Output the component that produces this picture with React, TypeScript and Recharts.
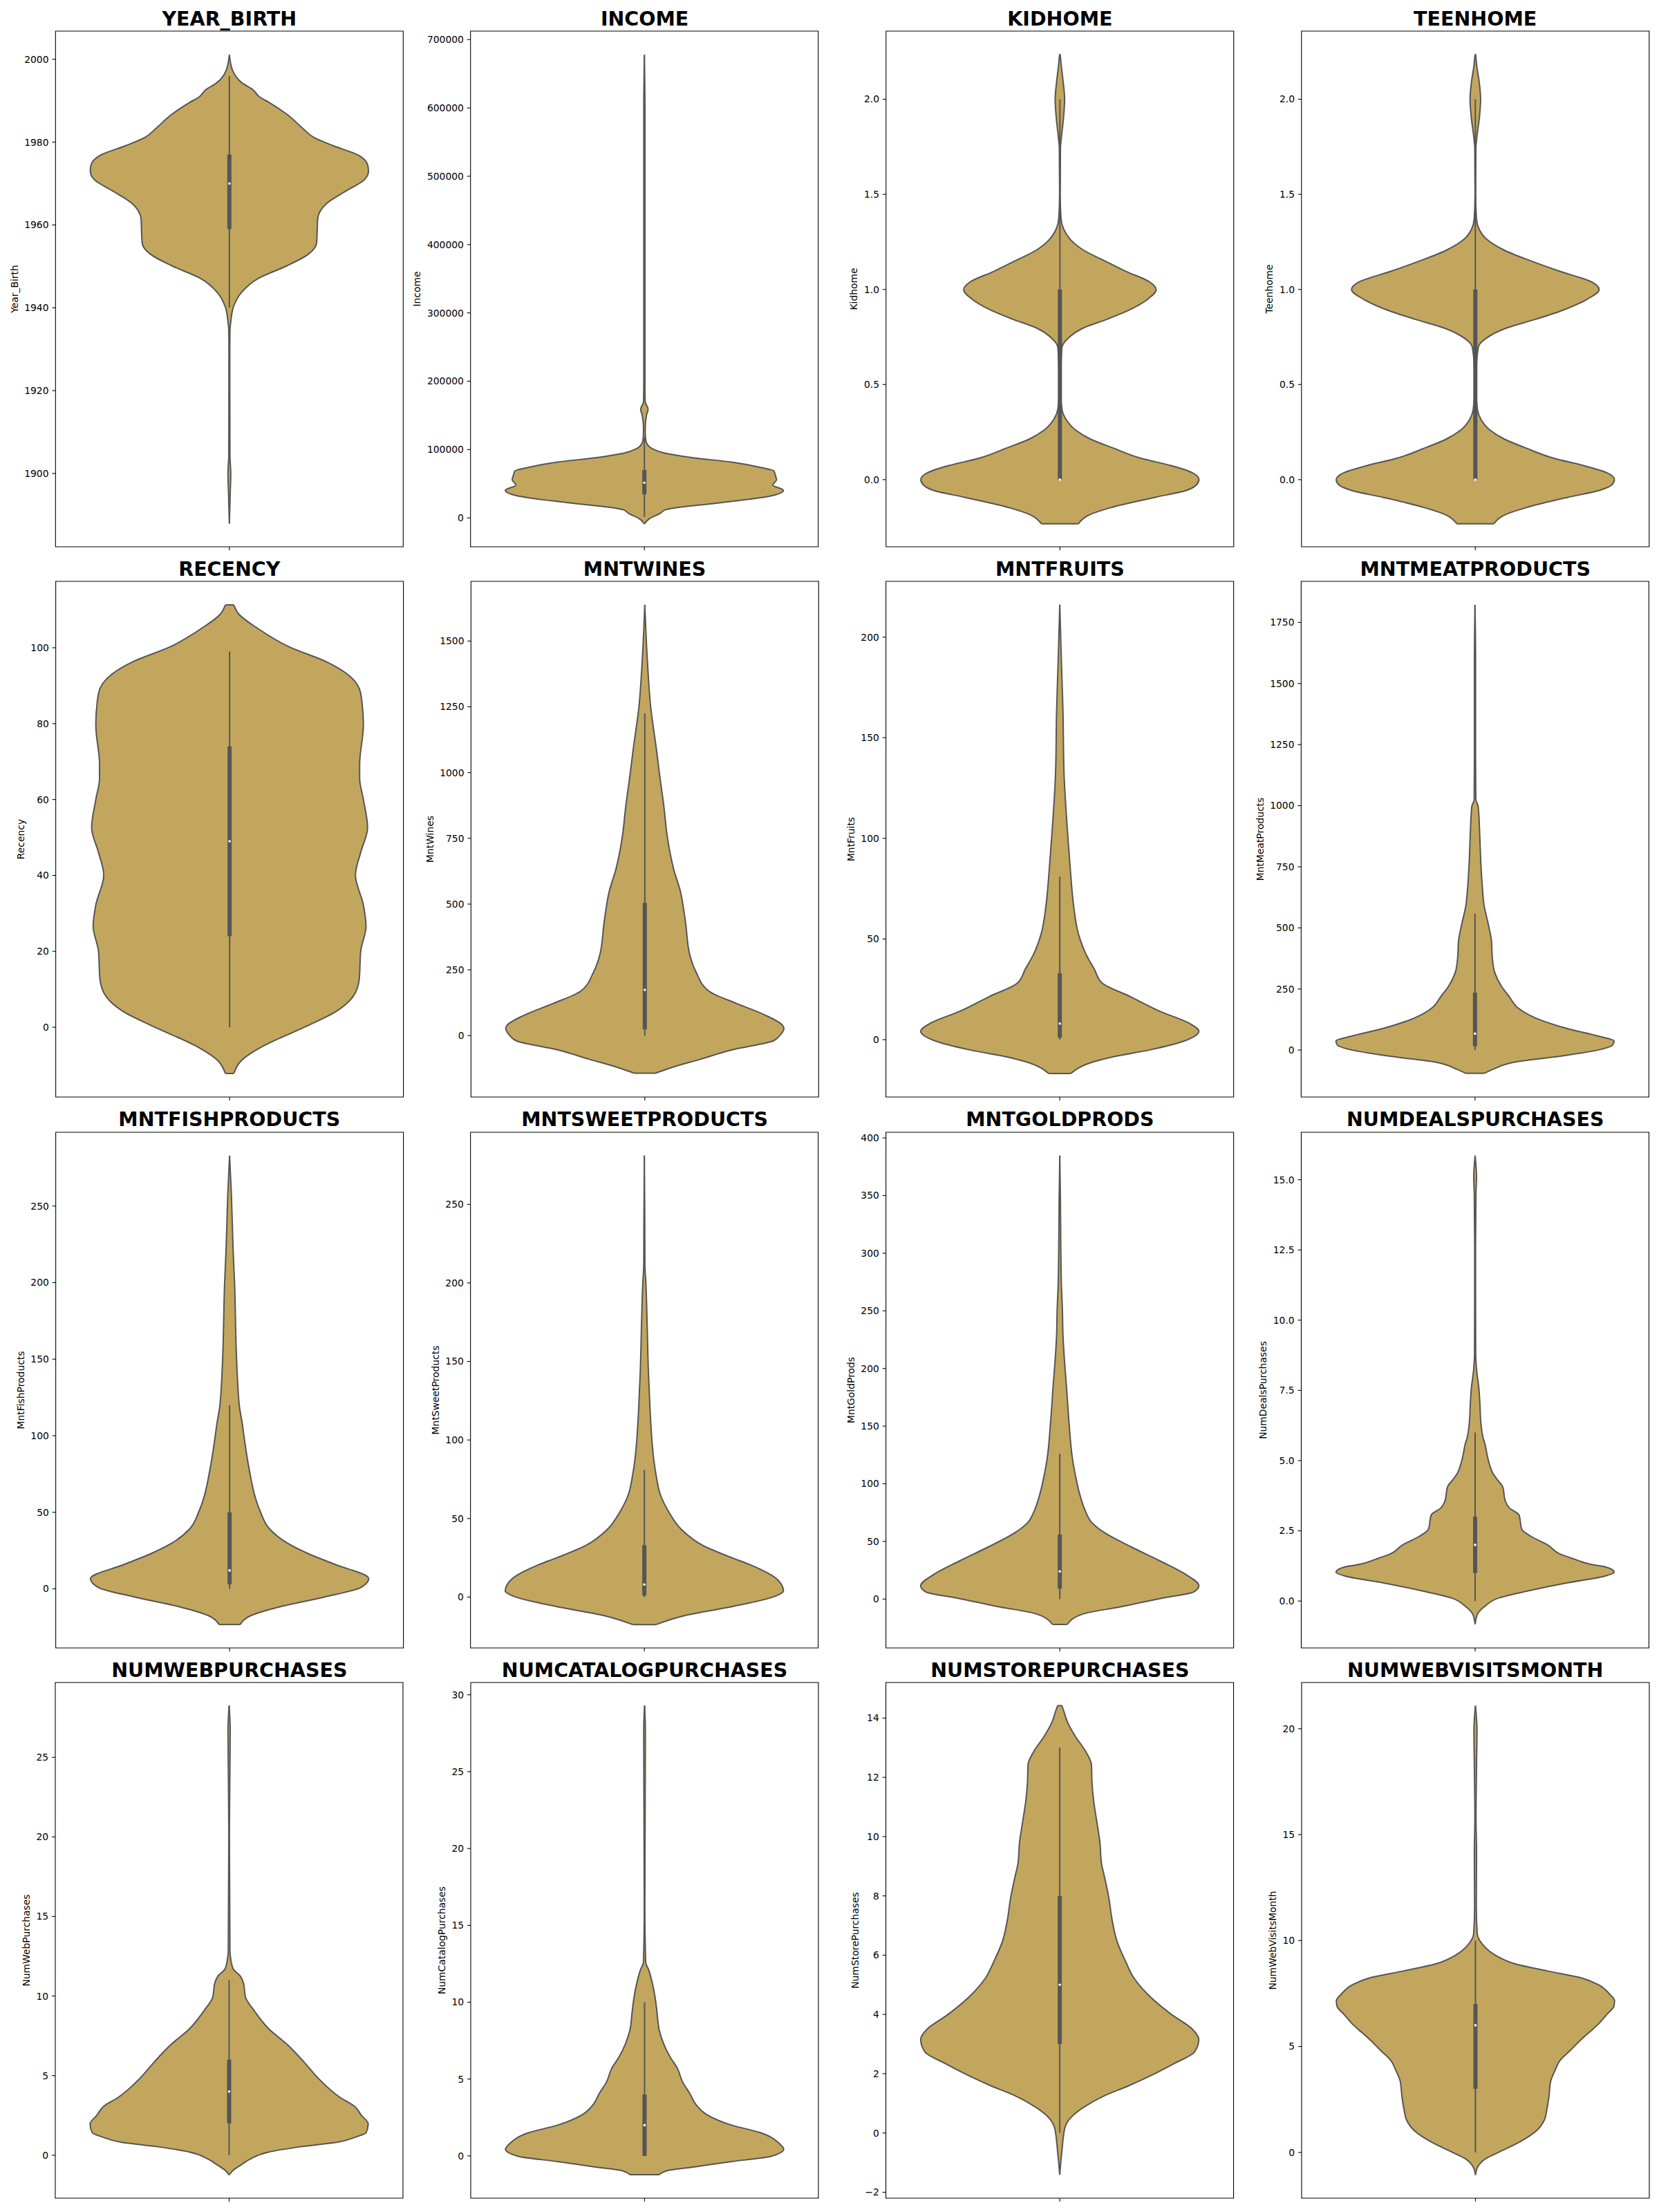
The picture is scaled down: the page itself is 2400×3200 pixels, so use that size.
import React from 'react';
import { ComposedChart, Area, XAxis, YAxis, ReferenceLine, ReferenceDot, ReferenceArea } from 'recharts';

type Pt = [number, number];

// ---------- violin outlines: [value, relative half-width (0..100)] ----------
const yearBirthShape: Pt[] = [[1887.9,0],[1895.1,0.6],[1900,1],[1904.5,0.4],[1929.2,0.3],[1934.3,0.4],[1936.9,1.1],[1940.3,3],[1943.7,8.7],[1947.1,20.9],[1950.1,41.1],[1953,57],[1955.6,62.7],[1958.1,63.1],[1961.5,63.5],[1965.3,70.3],[1968.3,84.4],[1970.9,97],[1972.9,100],[1974.3,99.6],[1976.9,92.4],[1979.1,74.9],[1981.1,60.8],[1983.2,53.2],[1986.6,41.8],[1989.6,28.5],[1990.9,21.7],[1992.6,17.1],[1994.3,9.1],[1997.3,2.3],[2001.1,0]];
const incomeShape: Pt[] = [[-8800,0],[-1000,3.8],[6700,11.4],[11900,15.2],[14500,21.7],[22200,55],[32500,92],[40300,100],[48000,92.4],[55800,95],[63500,94],[68700,93.2],[73800,83.7],[81600,62.7],[88300,34.2],[94500,15.2],[101200,5.7],[110000,1.5],[117700,0.8],[130000,0.6],[150000,1.5],[159000,2.7],[170000,0.6],[200000,0.4],[400000,0.4],[600000,0.4],[677800,0]];
const kidhomeShape: Pt[] = [[-0.232,13.3],[-0.186,20.9],[-0.148,36.1],[-0.093,68.4],[-0.056,91.3],[-0.028,98.1],[0,100],[0.037,95],[0.074,79.8],[0.111,58.9],[0.167,38],[0.213,22],[0.26,11.4],[0.315,4.6],[0.37,1.5],[0.48,0.4],[0.6,0.8],[0.696,1.5],[0.742,5.7],[0.798,17.1],[0.844,34.2],[0.89,49.4],[0.946,62.7],[1,69.2],[1.039,64.6],[1.095,47.5],[1.15,32.3],[1.206,17.1],[1.262,7.6],[1.317,2.7],[1.373,0.8],[1.5,0.2],[1.744,0.4],[1.8,1.1],[1.91,2.7],[2,3.4],[2.095,2.3],[2.17,1.1],[2.236,0.2]];
const teenhomeShape: Pt[] = [[-0.232,13.3],[-0.186,20.9],[-0.148,36.1],[-0.093,66.5],[-0.056,89.4],[-0.028,98.1],[0,100],[0.037,94.3],[0.074,77.9],[0.111,57],[0.167,36.1],[0.213,20.9],[0.26,10.6],[0.315,4.2],[0.37,1.5],[0.48,0.4],[0.6,0.8],[0.7,2.3],[0.742,7.6],[0.798,22.8],[0.844,43.7],[0.89,62.7],[0.946,79.8],[1,89],[1.039,83.7],[1.095,60.8],[1.15,39.9],[1.206,20.9],[1.262,8.4],[1.317,2.7],[1.373,0.8],[1.5,0.2],[1.744,0.4],[1.8,1.1],[1.91,3],[2,3.8],[2.095,2.7],[2.17,1.1],[2.236,0.2]];
const recencyShape: Pt[] = [[-12.2,3],[-8.7,8.7],[-5,24],[0.1,54.4],[4.3,77.2],[8,88.6],[12.6,93.2],[20.1,94.3],[26.6,98.1],[32.2,96.2],[40.1,90.5],[46.1,94.3],[52.6,99.2],[60,96.2],[65.6,93.5],[69.3,93.5],[79.6,96.2],[87.9,94.3],[93,84.8],[96.3,69.6],[100.2,43],[105.1,20.2],[108.8,6.8],[111.3,3]];
const mntWinesShape: Pt[] = [[-143,7.6],[-123,18.3],[-90,39.9],[-54,62.7],[-20,92.4],[0,97],[27,100],[40,98.9],[80,85.6],[121,66.5],[168,46.4],[241,36.9],[308,32.3],[429,29.3],[550,25.5],[630,20.9],[751,16.3],[871,13.7],[1005,10.3],[1086,8.4],[1251,4.2],[1421,1.9],[1638,0]];
const mntFruitsShape: Pt[] = [[-16.8,8],[-11.6,21.7],[-8.6,38],[-5.1,64.6],[-0.7,89.4],[4.2,100],[8.1,93.2],[14.2,71.5],[21.2,51.3],[28.2,30.4],[35.2,24.7],[42.2,19],[52.8,13.3],[66.8,9.9],[84.3,7.6],[101.8,5.7],[133.4,3],[163.2,2.3],[189.5,1.1],[216.1,0]];
const mntMeatShape: Pt[] = [[-95,6.8],[-78,13.3],[-49,28.5],[-24.5,62],[1.4,89.4],[20,98.9],[37.5,100],[56,89.4],[88,66.5],[131,43.7],[175,30.4],[218,24.7],[261,19],[319,14.1],[376,12.5],[449,11.8],[506,9.9],[593,6.5],[665,5.3],[766,4.2],[881,3.4],[997,2.3],[1025,0.6],[1200,0.4],[1600,0.4],[1822,0]];
const mntFishShape: Pt[] = [[-23.3,7.6],[-17.5,15.2],[-11.7,36.1],[-5.3,68.4],[0.9,94.3],[6.7,100],[15.9,76],[22.8,57],[29.7,41.8],[39.4,28.5],[50.9,21.9],[62.2,17.7],[73.7,15],[85.2,12.7],[96.7,10.8],[108,9.1],[119.5,7],[130,6.1],[153.1,4.9],[199.1,3.6],[222.1,2.5],[257.6,1.3],[282.9,0]];
const mntSweetShape: Pt[] = [[-17.5,8.4],[-11.9,28.5],[-5.8,64.6],[0,92.4],[3.8,100],[11.7,95],[20.6,76],[25.1,62.7],[33,41.8],[43.1,26.6],[54.3,17.5],[65.5,11.4],[76.8,8.6],[88,6.7],[99.2,5.5],[121.6,4],[144.1,2.9],[177.7,1.9],[200.2,1.1],[211.4,0.4],[240,0.3],[281,0]];
const mntGoldShape: Pt[] = [[-22,5.3],[-12.8,17.1],[-6.7,43.7],[0.9,74.1],[6.1,96.2],[11.6,100],[20.8,91.3],[33,72.2],[45.3,51.3],[57.5,32.3],[66.7,22.8],[75.8,18.6],[91.1,14.3],[106.4,11.4],[121.7,9.1],[152.3,6.7],[182.9,4.9],[213.5,3],[228.7,2.3],[250.2,1.9],[275.2,1.1],[351,0.4],[384.7,0]];
const dealsShape: Pt[] = [[-0.83,0],[-0.45,1.9],[-0.2,6.7],[0.11,17.1],[0.36,38],[0.65,66.5],[0.87,92],[1.03,100],[1.22,93.2],[1.3,83.7],[1.49,71.5],[1.68,60.8],[2,52.1],[2.31,39.9],[2.56,33.5],[3.06,31.6],[3.31,24.7],[3.56,21.7],[4.07,19.8],[4.32,16],[4.57,12.5],[4.82,10.6],[5.19,8.7],[5.57,7.2],[5.82,5.7],[6.32,4.2],[7.08,3.4],[7.58,2.7],[8.21,1.1],[8.83,0.4],[12.6,0.3],[14.5,0.6],[15.1,1],[15.86,0]];
const webShape: Pt[] = [[-1.24,0],[-0.91,3.4],[-0.62,8.4],[-0.24,15.2],[0.2,28.5],[0.53,51.3],[0.82,77.9],[1.15,91.3],[1.42,98.5],[1.97,100],[2.52,95],[3.08,90.1],[3.63,79.8],[4.85,63.9],[5.73,55.1],[6.28,49.4],[6.95,41.8],[7.94,28.5],[9.05,18.3],[9.93,11.8],[10.82,10.3],[11.26,8],[11.7,3],[12.37,1.1],[12.8,0.6],[20.1,0.2],[24.5,0.6],[26.7,0.8],[28.25,0]];
const catalogShape: Pt[] = [[-1.22,10.6],[-0.94,17.1],[-0.71,36.1],[-0.37,62.7],[-0.02,91.3],[0.44,100],[0.8,97],[1.5,83.7],[2,62.7],[2.7,44.5],[3.3,37.3],[4.1,32.3],[4.8,27.4],[5.7,23.6],[6.4,18.6],[7.3,13.7],[8.2,10.5],[9.4,8.9],[10.3,7.6],[11.2,5.7],[12.1,3],[12.6,0.8],[16.3,0.2],[27.7,0.6],[29.3,0]];
const storeShape: Pt[] = [[-1.41,0],[-0.64,1.5],[0.19,3.8],[0.55,8.6],[0.9,18.3],[1.26,32.3],[1.59,49.4],[1.85,61.6],[2.33,81.7],[2.74,97],[3.16,100],[3.52,95],[3.99,80.6],[4.58,65.4],[5.24,53.2],[5.77,47.5],[6.48,41.1],[7.2,37.6],[7.91,35.4],[8.62,32.3],[9.1,30],[9.81,28.9],[10.52,26.6],[11.24,24.3],[11.83,23.2],[12.42,22.8],[12.9,18.3],[13.37,11.4],[13.85,5.7],[14.32,2.3],[14.42,1.5]];
const visitsShape: Pt[] = [[-1.06,0],[-0.65,1.9],[-0.32,6.7],[0.02,17.1],[0.51,32.3],[1.01,43.7],[1.51,49.4],[2.01,51.3],[2.67,52.9],[3.34,54],[3.84,57],[4.34,60.8],[4.83,68.4],[5.33,76],[5.66,81.7],[6,87.5],[6.5,94.3],[6.91,99.6],[7.16,100],[7.49,96.2],[7.91,88.6],[8.24,76],[8.57,51.3],[8.9,28.5],[9.32,14.1],[9.82,5.1],[10.32,1.3],[11.6,0.6],[14.1,0.8],[15.8,0.4],[18.3,0.8],[19.95,1.1],[21.08,0]];

// ---------- inner box stats: [low whisker, Q1, median, Q3, high whisker] ----------
const yearBirthBox = [1940, 1959, 1970, 1977, 1996];
const incomeBox = [1730, 34500, 51500, 70000, 118000];
const kidhomeBox = [0, 0, 0, 1, 2];
const teenhomeBox = [0, 0, 0, 1, 2];
const recencyBox = [0, 24, 49, 74, 99];
const mntWinesBox = [0, 24, 174, 505, 1225];
const mntFruitsBox = [0, 1, 8, 33, 81];
const mntMeatBox = [0, 16, 67, 235, 558];
const mntFishBox = [0, 3, 12, 50, 120];
const mntSweetBox = [0, 1, 8, 33, 81];
const mntGoldBox = [0, 9, 24, 56, 126];
const dealsBox = [0, 1, 2, 3, 6];
const webBox = [0, 2, 4, 6, 11];
const catalogBox = [0, 0, 2, 4, 10];
const storeBox = [0, 3, 5, 8, 13];
const visitsBox = [0, 3, 6, 7, 10];

// ---------- y tick labels ----------
const yearBirthTicks = [1900, 1920, 1940, 1960, 1980, 2000];
const incomeTicks = [0, 100000, 200000, 300000, 400000, 500000, 600000, 700000];
const homeTicks = [0, 0.5, 1, 1.5, 2];
const recencyTicks = [0, 20, 40, 60, 80, 100];
const mntWinesTicks = [0, 250, 500, 750, 1000, 1250, 1500];
const mntFruitsTicks = [0, 50, 100, 150, 200];
const mntMeatTicks = [0, 250, 500, 750, 1000, 1250, 1500, 1750];
const mnt250Ticks = [0, 50, 100, 150, 200, 250];
const mntGoldTicks = [0, 50, 100, 150, 200, 250, 300, 350, 400];
const dealsTicks = [0, 2.5, 5, 7.5, 10, 12.5, 15];
const webTicks = [0, 5, 10, 15, 20, 25];
const catalogTicks = [0, 5, 10, 15, 20, 25, 30];
const storeTicks = [-2, 0, 2, 4, 6, 8, 10, 12, 14];
const visitsTicks = [0, 5, 10, 15, 20];

// ---------- y axis ranges ----------
const yearBirthDomain = [1882.3, 2006.8];
const incomeDomain = [-42300, 712400];
const homeDomain = [-0.353, 2.358];
const recencyDomain = [-18.4, 117.5];
const mntWinesDomain = [-233.5, 1727];
const mntFruitsDomain = [-28.5, 227.7];
const mntMeatDomain = [-192, 1918];
const mntFishDomain = [-38.6, 298.2];
const mntSweetDomain = [-32.4, 295.9];
const mntGoldDomain = [-42.4, 404.9];
const dealsDomain = [-1.67, 16.69];
const webDomain = [-2.7, 29.7];
const catalogDomain = [-2.75, 30.8];
const storeDomain = [-2.2, 15.2];
const visitsDomain = [-2.16, 22.18];

const titles = ['YEAR_BIRTH', 'INCOME', 'KIDHOME', 'TEENHOME', 'RECENCY', 'MNTWINES', 'MNTFRUITS', 'MNTMEATPRODUCTS', 'MNTFISHPRODUCTS', 'MNTSWEETPRODUCTS', 'MNTGOLDPRODS', 'NUMDEALSPURCHASES', 'NUMWEBPURCHASES', 'NUMCATALOGPURCHASES', 'NUMSTOREPURCHASES', 'NUMWEBVISITSMONTH'];
const ylabels = ['Year_Birth', 'Income', 'Kidhome', 'Teenhome', 'Recency', 'MntWines', 'MntFruits', 'MntMeatProducts', 'MntFishProducts', 'MntSweetProducts', 'MntGoldProds', 'NumDealsPurchases', 'NumWebPurchases', 'NumCatalogPurchases', 'NumStorePurchases', 'NumWebVisitsMonth'];
const shapes = [yearBirthShape, incomeShape, kidhomeShape, teenhomeShape, recencyShape, mntWinesShape, mntFruitsShape, mntMeatShape, mntFishShape, mntSweetShape, mntGoldShape, dealsShape, webShape, catalogShape, storeShape, visitsShape];
const boxes = [yearBirthBox, incomeBox, kidhomeBox, teenhomeBox, recencyBox, mntWinesBox, mntFruitsBox, mntMeatBox, mntFishBox, mntSweetBox, mntGoldBox, dealsBox, webBox, catalogBox, storeBox, visitsBox];
const tickSets = [yearBirthTicks, incomeTicks, homeTicks, homeTicks, recencyTicks, mntWinesTicks, mntFruitsTicks, mntMeatTicks, mnt250Ticks, mnt250Ticks, mntGoldTicks, dealsTicks, webTicks, catalogTicks, storeTicks, visitsTicks];
const domains = [yearBirthDomain, incomeDomain, homeDomain, homeDomain, recencyDomain, mntWinesDomain, mntFruitsDomain, mntMeatDomain, mntFishDomain, mntSweetDomain, mntGoldDomain, dealsDomain, webDomain, catalogDomain, storeDomain, visitsDomain];
const decimals = [0, 0, 1, 1, 0, 0, 0, 0, 0, 0, 0, 1, 0, 0, 0, 0];

// ---------- styling / layout ----------
const FONT = "'DejaVu Sans', 'Liberation Sans', sans-serif";
const FILL = '#c3a65d';
const EDGE = '#555555';
const PW = 503;
const PH = 746;
const COL_X = [80.3, 681.1, 1281.9, 1882.7];
const ROW_Y = [45, 841.3, 1637.6, 2434];
const TICK_FS = 13.9;
const TITLE_FS = 28.5;
const MAX_HALF = 0.4;

function fmt(v: number, dec: number): string {
  const s = Math.abs(v).toFixed(dec);
  return v < 0 ? '\u2212' + s : s;
}
function textW(s: string): number {
  let w = 0;
  for (const c of s) w += c === '.' ? 0.318 : c === '\u2212' ? 0.838 : 0.636;
  return w * TICK_FS;
}

function Violin({ i }: { i: number }) {
  const left = COL_X[i % 4];
  const top = ROW_Y[Math.floor(i / 4)];
  const shape = shapes[i];
  const [lo, q1, med, q3, hi] = boxes[i];
  const ticks = tickSets[i];
  const domain = domains[i] as [number, number];
  const dec = decimals[i];
  const maxW = Math.max(...ticks.map((t) => textW(fmt(t, dec))));
  const L = 24.3 + maxW;
  const W = 2 * L;
  const hw = (d: number) => (d / 100) * MAX_HALF;
  const data = [...shape].sort((a, b) => b[0] - a[0]).map(([v, d]) => ({ v, r: [-hw(d), hw(d)] }));
  const ends = [shape[0], shape[shape.length - 1]].filter((p) => p[1] > 0);
  const titleTop = top - 7.3 - (TITLE_FS * (1 - 1.164) / 2 + 0.928 * TITLE_FS);
  return (
    <>
      <div
        style={{
          position: 'absolute',
          left,
          top: titleTop,
          width: PW,
          textAlign: 'center',
          fontWeight: 'bold',
          fontSize: TITLE_FS,
          lineHeight: `${TITLE_FS}px`,
          whiteSpace: 'nowrap',
          color: '#000',
        }}
      >
        {titles[i]}
      </div>
      <div style={{ position: 'absolute', left: left - W, top: top - 2 }}>
        <ComposedChart
          width={W + PW + 3}
          height={PH + 2 + 24}
          layout="vertical"
          data={data}
          margin={{ top: 2, right: 3, bottom: 0, left: 0 }}
        >
          <XAxis
            type="number"
            domain={[-0.5, 0.5]}
            allowDataOverflow
            ticks={[0]}
            tickFormatter={() => ''}
            axisLine={false}
            tickLine={{ stroke: '#000', strokeWidth: 1.1 }}
            tickSize={4.9}
            height={24}
          />
          <YAxis
            type="number"
            dataKey="v"
            domain={domain}
            allowDataOverflow
            reversed
            ticks={ticks}
            interval={0}
            tickFormatter={(t: number) => fmt(t, dec)}
            axisLine={false}
            tickLine={{ stroke: '#000', strokeWidth: 1.1 }}
            tickSize={4.9}
            tickMargin={4.9}
            tick={{ fill: '#000', fontSize: TICK_FS, fontFamily: FONT }}
            width={W}
            label={{
              value: ylabels[i],
              angle: -90,
              position: 'center',
              fill: '#000',
              fontSize: TICK_FS,
              fontFamily: FONT,
            }}
          />
          <Area
            dataKey="r"
            type="monotone"
            fill={FILL}
            fillOpacity={1}
            stroke={EDGE}
            strokeWidth={2}
            dot={false}
            activeDot={false}
            isAnimationActive={false}
          />
          {ends.map(([v, d], k) => (
            <ReferenceLine
              key={`cap${k}`}
              segment={[{ x: -hw(d), y: v }, { x: hw(d), y: v }]}
              stroke={EDGE}
              strokeWidth={2}
            />
          ))}
          <ReferenceLine segment={[{ x: 0, y: lo }, { x: 0, y: hi }]} stroke={EDGE} strokeWidth={2} />
          <ReferenceLine segment={[{ x: 0, y: q1 }, { x: 0, y: q3 }]} stroke={EDGE} strokeWidth={6} />
          <ReferenceDot x={0} y={med} r={1.8} fill="#ffffff" stroke="none" />
          <ReferenceArea
            x1={-0.5}
            x2={0.5}
            y1={domain[0]}
            y2={domain[1]}
            fill="none"
            fillOpacity={0}
            stroke="#000"
            strokeWidth={1.1}
          />
        </ComposedChart>
      </div>
    </>
  );
}

export default function App() {
  return (
    <div
      style={{
        position: 'absolute',
        left: 0,
        top: 0,
        width: 2400,
        height: 3200,
        background: '#ffffff',
        fontFamily: FONT,
        overflow: 'hidden',
      }}
    >
      {titles.map((_, i) => (
        <Violin key={i} i={i} />
      ))}
    </div>
  );
}
